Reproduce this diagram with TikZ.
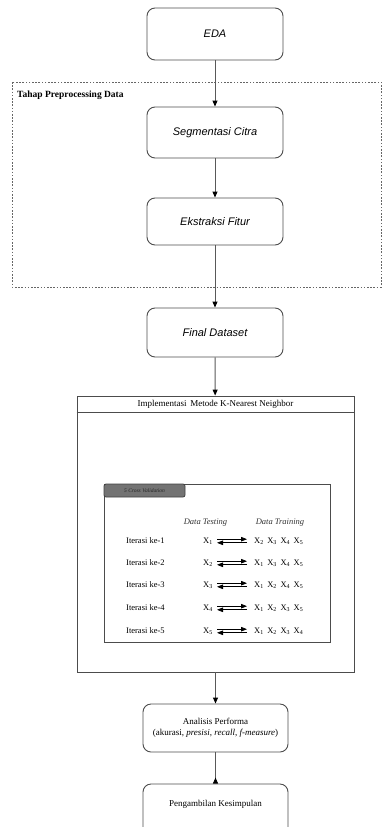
\documentclass[tikz,border=0pt]{standalone}
\usepackage{fontspec}
\setmainfont{Liberation Serif}
\setsansfont{Liberation Sans}
\usetikzlibrary{arrows.meta,calc}
\begin{document}
\begin{tikzpicture}[x=1pt,y=-1pt,
  rbox/.style={draw=black!70, line width=0.9pt, rounded corners=8pt, minimum width=136pt, align=center, inner sep=0pt},
  sbox/.style={rbox, font=\sffamily\itshape\fontsize{11}{13}\selectfont},
  flow/.style={draw=black!65, line width=0.9pt, -{Triangle[length=6pt,width=5pt,fill=black,color=black]}},
  lab/.style={font=\fontsize{8.5}{10}\selectfont, inner sep=0pt},
  xa/.style={draw=black, line width=0.8pt, -{Triangle[length=6pt,width=4.5pt]}}
]
\useasboundingbox (0,0) rectangle (382,827);

% dashed preprocessing region
\draw[black!60, line width=0.8pt, dash pattern=on 1.6pt off 1.6pt] (12,82) rectangle (381,287);
\node[anchor=west, inner sep=0pt, font=\bfseries\fontsize{9.5}{11}\selectfont] (tahap) at (17,95) {Tahap Preprocessing Data};

\node[sbox, minimum height=52pt] (eda) at (215,34) {EDA};
\node[sbox, minimum height=51pt] (seg) at (215,132.5) {Segmentasi Citra};
\node[sbox, minimum height=47pt] (eks) at (215,221.5) {Ekstraksi Fitur};
\node[sbox, minimum height=49pt] (fin) at (215,332.5) {Final Dataset};

% KNN container
\node[draw=black!70, line width=0.9pt, minimum width=277pt, minimum height=276pt, inner sep=0pt] (knn) at (215.5,534) {};
\draw[black!70, line width=0.9pt] ($(knn.north west)+(0,17)$) coordinate (hl) -- ($(knn.north east)+(0,17)$) coordinate (hr);
\node[lab, font=\fontsize{9}{11}\selectfont] (knnt) at (215.5,404.5) {Implementasi\, Metode K-Nearest Neighbor};

% inner cross validation box
\node[draw=black!70, line width=0.9pt, minimum width=226pt, minimum height=158pt, inner sep=0pt] (cv) at (217,563) {};
\draw[draw=black!75, fill=black!55, line width=0.8pt, rounded corners=2pt] (104,484) -- (185,484) -- (185,497) -- (104,497) -- cycle;
\node[inner sep=0pt, font=\itshape\fontsize{5.5}{6}\selectfont, text=black!85] (tab) at (144.5,490.5) {5 Cross Validation};

\node[lab, font=\itshape\fontsize{8.5}{10}\selectfont, text=black!80] (ht) at (205.5,523) {Data Testing};
\node[lab, font=\itshape\fontsize{8.5}{10}\selectfont, text=black!80] (hr2) at (280,523) {Data Training};

\foreach \i/\y/\tr in {1/541/{X\textsubscript{2}\, X\textsubscript{3}\, X\textsubscript{4}\, X\textsubscript{5}},
                       2/563/{X\textsubscript{1}\, X\textsubscript{3}\, X\textsubscript{4}\, X\textsubscript{5}},
                       3/585/{X\textsubscript{1}\, X\textsubscript{2}\, X\textsubscript{4}\, X\textsubscript{5}},
                       4/608/{X\textsubscript{1}\, X\textsubscript{2}\, X\textsubscript{3}\, X\textsubscript{5}},
                       5/631/{X\textsubscript{1}\, X\textsubscript{2}\, X\textsubscript{3}\, X\textsubscript{4}}}{
  \node[lab, anchor=west] (it\i) at (126,\y) {Iterasi ke-\i};
  \node[lab, anchor=east] (te\i) at (213,\y) {X\textsubscript{\i}};
  \node[lab, anchor=west] (tr\i) at (254,\y) {\tr};
  \draw[xa] ([xshift=4pt,yshift=1.8pt]te\i.east) -- ([xshift=-7pt,yshift=1.8pt]tr\i.west);
  \draw[xa] ([xshift=-7pt,yshift=-1.8pt]tr\i.west) -- ([xshift=4pt,yshift=-1.8pt]te\i.east);
}

\node[rbox, minimum width=145pt, minimum height=48pt, font=\fontsize{9}{11}\selectfont] (ana) at (215.5,728)
  {Analisis Performa\\(akurasi, \textit{presisi}, \textit{recall}, \textit{f-measure})};
\node[rbox, minimum width=145pt, minimum height=62pt, font=\fontsize{9}{11}\selectfont, text depth=0pt] (kes) at (215.5,815) {};
\node[lab, font=\fontsize{9}{11}\selectfont] (kest) at (215.5,804) {Pengambilan Kesimpulan};

\draw[flow] (eda) -- (seg);
\draw[flow] (seg) -- (eks);
\draw[flow] (eks) -- (fin);
\draw[flow] (fin) -- (knn);
\draw[flow] (knn) -- (ana);
\draw[draw=black!65, line width=0.9pt, -{Triangle[reversed,length=6pt,width=5pt,fill=black,color=black]}] (ana) -- (kes);
\end{tikzpicture}
\end{document}
